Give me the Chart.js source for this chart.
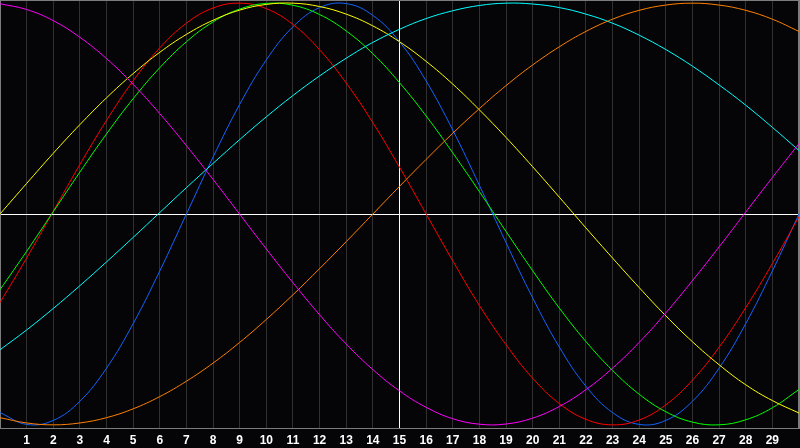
<!DOCTYPE html>
<html>
<head>
<meta charset="utf-8">
<script src="https://cdn.jsdelivr.net/npm/chart.js@4/dist/chart.umd.min.js"></script>
<style>
  html, body { margin: 0; padding: 0; background: #050507; }
  #wrap { width: 800px; height: 448px; }
</style>
</head>
<body>
<div id="wrap"><canvas id="waves"></canvas></div>
<script>
// x positions 0..30, labels shown only for 1..29
const xValues = [0,1,2,3,4,5,6,7,8,9,10,11,12,13,14,15,16,17,18,19,20,21,22,23,24,25,26,27,28,29,30];
const tickLabels = ["1","2","3","4","5","6","7","8","9","10","11","12","13","14","15","16","17","18","19","20","21","22","23","24","25","26","27","28","29"];

const magenta = [0.997,0.970,0.917,0.838,0.737,0.615,0.476,0.324,0.164,-0.001,-0.166,-0.326,-0.478,-0.617,-0.738,-0.839,-0.917,-0.971,-0.997,-0.996,-0.968,-0.913,-0.833,-0.731,-0.609,-0.469,-0.316,-0.156,0.009,0.173,0.334];
const red = [-0.420,-0.209,0.013,0.235,0.444,0.632,0.788,0.905,0.977,1.000,0.974,0.899,0.779,0.621,0.433,0.222,0.000,-0.222,-0.434,-0.620,-0.779,-0.899,-0.974,-1.000,-0.977,-0.905,-0.788,-0.632,-0.444,-0.235,-0.013];
const green = [-0.359,-0.177,0.011,0.199,0.380,0.547,0.694,0.817,0.911,0.972,0.999,0.990,0.946,0.868,0.760,0.623,0.465,0.290,0.106,-0.083,-0.269,-0.446,-0.605,-0.742,-0.855,-0.938,-0.987,-1.000,-0.976,-0.919,-0.832];
const yellow = [0.000,0.145,0.288,0.424,0.551,0.666,0.767,0.852,0.919,0.967,0.994,1.000,0.984,0.948,0.892,0.817,0.724,0.616,0.494,0.363,0.224,0.080,-0.066,-0.209,-0.349,-0.483,-0.606,-0.715,-0.810,-0.885,-0.944];
const blue = [-0.942,-0.998,-0.979,-0.888,-0.731,-0.520,-0.270,0.000,0.270,0.520,0.731,0.888,0.979,0.998,0.942,0.817,0.631,0.398,0.136,-0.136,-0.398,-0.631,-0.817,-0.942,-0.998,-0.979,-0.888,-0.731,-0.520,-0.270,0.000];
const cyan = [-0.644,-0.550,-0.448,-0.340,-0.227,-0.111,0.007,0.125,0.240,0.353,0.461,0.562,0.655,0.739,0.814,0.876,0.927,0.964,0.989,1.000,0.996,0.979,0.948,0.905,0.848,0.780,0.701,0.612,0.516,0.411,0.301];
const orange = [-0.966,-0.991,-1.000,-0.991,-0.966,-0.924,-0.866,-0.793,-0.707,-0.609,-0.500,-0.383,-0.259,-0.131,0.000,0.131,0.259,0.383,0.500,0.609,0.707,0.793,0.866,0.924,0.966,0.991,1.000,0.991,0.966,0.924,0.866];

const gridDark = "#303030";
const frameGray = "#7c7c7c";

// gray frame on top of the plot area (left/right come from the edge grid lines)
const framePlugin = {
  id: "frame",
  beforeDatasetsDraw(chart) {
    const { ctx, chartArea } = chart;
    ctx.save();
    ctx.strokeStyle = frameGray;
    ctx.lineWidth = 1;
    ctx.strokeRect(chartArea.left + 0.5, chartArea.top + 0.5,
      chartArea.right - chartArea.left - 1, chartArea.bottom - chartArea.top);
    ctx.restore();
  }
};

function series(data, color) {
  return {
    data: data,
    borderColor: color,
    borderWidth: 1,
    pointRadius: 0,
    pointHoverRadius: 0,
    fill: false,
    tension: 0.4
  };
}

new Chart(document.getElementById("waves"), {
  type: "line",
  data: {
    labels: xValues,
    datasets: [
      series(magenta, "#ff00ff"),
      series(orange, "#ff8000"),
      series(cyan, "#00ffff"),
      series(yellow, "#ffff00"),
      series(green, "#00ff00"),
      series(red, "#ff0000"),
      series(blue, "#1464ff")
    ]
  },
  options: {
    responsive: true,
    maintainAspectRatio: false,
    animation: false,
    layout: { autoPadding: false, padding: { left: 0, right: 1, top: 0, bottom: 0 } },
    plugins: {
      legend: { display: false },
      tooltip: { enabled: false }
    },
    scales: {
      x: {
        afterFit: (scale) => {
          // plot runs edge to edge, axis strip is 20px
          scale.paddingLeft = 0;
          scale.paddingRight = 0;
          scale.height = 20;
        },
        grid: {
          color: (c) => {
            if (c.index === 15) return "#ffffff";
            if (c.index === 0 || c.index === xValues.length - 1) return frameGray;
            return gridDark;
          },
          lineWidth: 1,
          drawTicks: false
        },
        border: { display: true, color: frameGray, width: 1 },
        ticks: {
          autoSkip: false,
          maxRotation: 0,
          padding: 6,
          color: "#ffffff",
          font: { family: "'Liberation Sans', Arial, sans-serif", size: 12, weight: "bold", lineHeight: 1.167 },
          callback: (value, index) => (index >= 1 && index <= tickLabels.length ? tickLabels[index - 1] : "")
        }
      },
      y: {
        min: -1.015,
        max: 1.015,
        ticks: { display: false },
        grid: {
          color: (c) => (c.tick && c.tick.value === 0 ? "#ffffff" : "rgba(0,0,0,0)"),
          drawTicks: false
        },
        border: { display: false }
      }
    }
  },
  plugins: [framePlugin]
});
</script>
</body>
</html>
